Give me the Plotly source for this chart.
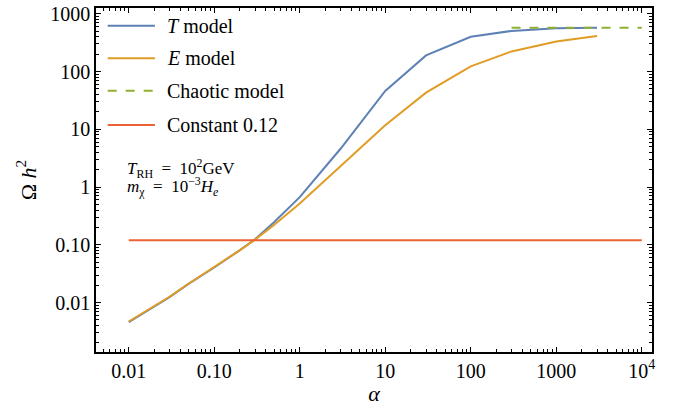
import plotly.graph_objects as go

alpha = [0.01, 0.02, 0.03, 0.05, 0.1, 0.2, 0.3, 0.5, 1, 3, 10, 30, 100, 300, 1000, 3000]
omega_T = [0.0046, 0.0086, 0.0124, 0.021, 0.0405, 0.081, 0.125, 0.245, 0.67, 4.6, 46, 190, 400, 505, 560, 572]
omega_E = [0.0047, 0.0087, 0.0126, 0.0212, 0.041, 0.081, 0.123, 0.22, 0.52, 2.27, 11.8, 43, 123, 223, 331, 414]
alpha_chaotic = [300, 10000]
omega_chaotic = [575, 575]
alpha_const = [0.01, 10000]
omega_const = [0.12, 0.12]

x_tickvals = [0.01, 0.1, 1, 10, 100, 1000, 10000]
x_ticktext = ["0.01", "0.10", "1", "10", "100", "1000", "10<sup>4</sup>"]
y_tickvals = [0.01, 0.1, 1, 10, 100, 1000]
y_ticktext = ["0.01", "0.10", "1", "10", "100", "1000"]

names = ["<i>T</i> model", "<i>E</i> model", "Chaotic model", "Constant 0.12"]
colors = ["#5e81b5", "#e19c24", "#8fb032", "#eb6235"]
dashes = ["solid", "solid", "dash", "solid"]

FONT = "Liberation Serif"
XR = [-2.383, 4.12]
YR = [-2.856, 3.1]


def minor_vals(lo_exp, hi_exp):
    vals = []
    for e in range(lo_exp, hi_exp + 1):
        for m in range(2, 10):
            vals.append(m * 10.0 ** e)
    return vals


fig = go.Figure()
series = [(alpha, omega_T), (alpha, omega_E), (alpha_chaotic, omega_chaotic), (alpha_const, omega_const)]
for (xs, ys), n, c, d in zip(series, names, colors, dashes):
    fig.add_trace(go.Scatter(x=xs, y=ys, mode="lines", name=n,
                             line=dict(color=c, width=2, dash=d), showlegend=False))

# invisible trace so the minor-tick axes get drawn
fig.add_trace(go.Scatter(x=[1], y=[1], xaxis="x2", yaxis="y2", mode="markers",
                         marker=dict(opacity=0), showlegend=False, hoverinfo="skip"))

# manual legend
leg_y = [0.9485, 0.854, 0.7596, 0.66]
for n, c, d, yy in zip(names, colors, dashes, leg_y):
    fig.add_shape(type="line", xref="paper", yref="paper", x0=0.0210, x1=0.106, y0=yy, y1=yy,
                  line=dict(color=c, width=2, dash=d))
    fig.add_annotation(xref="paper", yref="paper", x=0.124, y=yy, text=n, showarrow=False,
                       xanchor="left", yanchor="middle", font=dict(family=FONT, size=20, color="black"))

info_lines = ["<i>T</i><sub>RH</sub>&nbsp;&nbsp;=&nbsp;&nbsp;10<sup>2</sup>GeV",
              "<i>m</i><sub>χ</sub>&nbsp;&nbsp;=&nbsp;&nbsp;10<sup>−3</sup><i>H</i><sub><i>e</i></sub>"]
for txt, yy in zip(info_lines, [0.533, 0.481]):
    fig.add_annotation(xref="paper", yref="paper", x=0.052, y=yy, text=txt,
                       showarrow=False, xanchor="left", yanchor="middle", align="left",
                       font=dict(family=FONT, size=17, color="black"))

axis_common = dict(type="log", showgrid=False, zeroline=False, showline=True, linecolor="black",
                   linewidth=1.6, mirror="allticks", ticks="inside", ticklen=5, tickwidth=1,
                   tickcolor="black", tickfont=dict(family=FONT, size=20, color="black"),
                   automargin=False)
minor_common = dict(type="log", showgrid=False, zeroline=False, showline=False, mirror="allticks",
                    ticks="inside", ticklen=3, tickwidth=1, tickcolor="black", showticklabels=False,
                    automargin=False)

fig.update_layout(
    xaxis=dict(**axis_common, range=XR, tickvals=x_tickvals, ticktext=x_ticktext,
               title=dict(text="<i>α</i>", font=dict(family=FONT, size=22, color="black"), standoff=5)),
    yaxis=dict(**axis_common, range=YR, tickvals=y_tickvals, ticktext=y_ticktext,
               title=dict(text="Ω <i>h</i><sup>2</sup>", font=dict(family=FONT, size=22, color="black"), standoff=8)),
    xaxis2=dict(**minor_common, range=XR, overlaying="x", side="bottom", tickvals=minor_vals(-3, 4)),
    yaxis2=dict(**minor_common, range=YR, overlaying="y", side="left", tickvals=minor_vals(-3, 3)),
    width=683, height=406, margin=dict(l=96, r=31, t=8, b=54, autoexpand=False),
    plot_bgcolor="white", paper_bgcolor="white", showlegend=False,
    font=dict(family=FONT, color="black"))

fig.write_html("out.html")
